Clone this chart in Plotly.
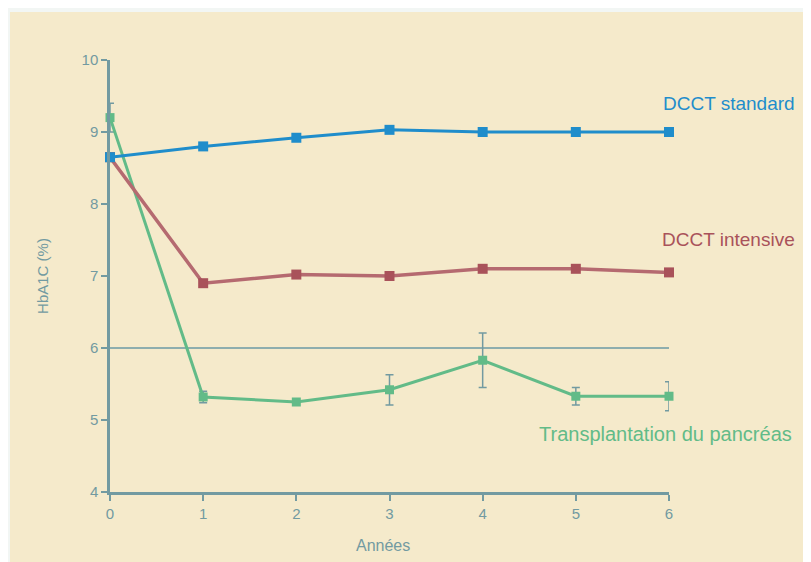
import plotly.graph_objects as go

years = [0, 1, 2, 3, 4, 5, 6]
dcct_standard = [8.65, 8.8, 8.92, 9.03, 9.0, 9.0, 9.0]
dcct_intensive = [8.65, 6.9, 7.02, 7.0, 7.1, 7.1, 7.05]
pancreas = [9.2, 5.32, 5.25, 5.42, 5.83, 5.33, 5.33]
pancreas_err = [0.2, 0.08, 0.0, 0.21, 0.38, 0.12, 0.2]
threshold = 6
y_ticks = [4, 5, 6, 7, 8, 9, 10]
labels = ["DCCT standard", "DCCT intensive", "Transplantation du pancréas"]
x_title = "Années"
y_title = "HbA1C (%)"

FONT = "Liberation Sans Narrow, Liberation Sans, Arial, sans-serif"
AXIS = "#729aa1"
BLUE = "#1f8dcb"
RED = "#a9525a"
GREEN = "#62bb88"

# page offset (browser body margin) compensation
OFF = 8
L, T = 110 - OFF, 60 - OFF
PW, PH = 559, 432

fig = go.Figure()

fig.add_trace(go.Scatter(
    x=years, y=pancreas, mode="lines+markers",
    line=dict(color=GREEN, width=3),
    marker=dict(symbol="square", size=9, color=GREEN),
    error_y=dict(type="data", array=pancreas_err, visible=True,
                 color=AXIS, thickness=1.5, width=4),
    cliponaxis=False, showlegend=False))
fig.add_trace(go.Scatter(
    x=years, y=dcct_intensive, mode="lines+markers",
    line=dict(color="#b56a70", width=3.5),
    marker=dict(symbol="square", size=10, color=RED),
    cliponaxis=False, showlegend=False))
fig.add_trace(go.Scatter(
    x=years, y=dcct_standard, mode="lines+markers",
    line=dict(color=BLUE, width=3),
    marker=dict(symbol="square", size=10, color=BLUE),
    cliponaxis=False, showlegend=False))

fig.add_shape(type="line", xref="x", yref="y", x0=years[0], x1=years[-1],
              y0=threshold, y1=threshold, line=dict(color="#8eaeae", width=2),
              layer="below")

# cream page panel
fig.add_shape(type="rect", xref="paper", yref="paper",
              x0=-100/PW, x1=1.4, y0=-0.3, y1=480/PH,
              fillcolor="#f5eacb", line=dict(width=0), layer="below")

fig.add_annotation(text=labels[0], xref="paper", yref="paper",
                   x=(797-110)/PW, y=(492-103)/PH, xanchor="right", yanchor="middle",
                   showarrow=False, font=dict(family=FONT, size=19, color=BLUE))
fig.add_annotation(text=labels[1], xref="paper", yref="paper",
                   x=(797-110)/PW, y=(492-240)/PH, xanchor="right", yanchor="middle",
                   showarrow=False, font=dict(family=FONT, size=19, color=RED))
fig.add_annotation(text=labels[2], xref="paper", yref="paper",
                   x=(794-110)/PW, y=(492-434)/PH, xanchor="right", yanchor="middle",
                   showarrow=False, font=dict(family=FONT, size=20, color=GREEN))
fig.add_annotation(text=x_title, xref="paper", yref="paper",
                   x=(383-110)/PW, y=(492-545)/PH, xanchor="center", yanchor="middle",
                   showarrow=False, font=dict(family=FONT, size=16, color=AXIS))

fig.update_layout(
    width=811, height=562,
    margin=dict(l=L, r=811 - L - PW, t=T, b=562 - T - PH),
    paper_bgcolor="#f2f6f4", plot_bgcolor="rgba(0,0,0,0)",
    font=dict(family=FONT, color=AXIS, size=14),
    xaxis=dict(range=[0, 6], tickvals=years, ticks="outside", ticklen=6,
               tickcolor=AXIS, tickwidth=2, showline=True, linecolor=AXIS,
               linewidth=2.5, showgrid=False, zeroline=False,
               tickfont=dict(size=15, color=AXIS)),
    yaxis=dict(range=[4, 10], tickvals=y_ticks, ticks="outside", ticklen=6,
               tickcolor=AXIS, tickwidth=2, showline=True, linecolor=AXIS,
               linewidth=2.5, showgrid=False, zeroline=False,
               title=dict(text=y_title, font=dict(size=15, color=AXIS), standoff=30),
               tickfont=dict(size=15, color=AXIS)),
)

fig.write_html("out.html")
